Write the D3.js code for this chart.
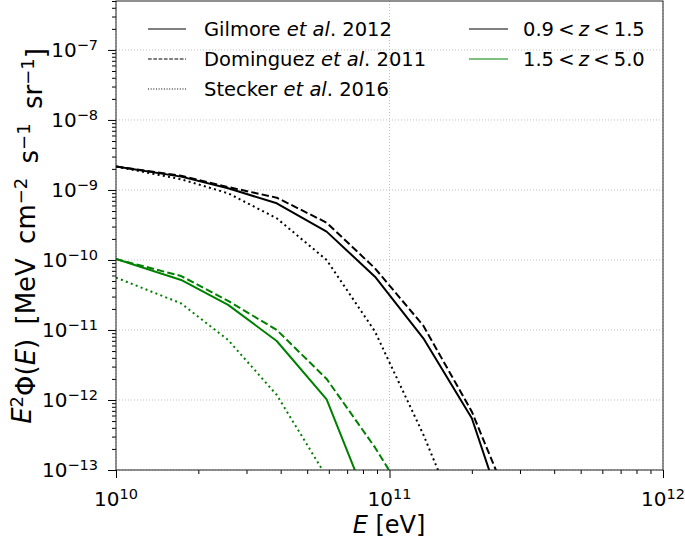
<!DOCTYPE html>
<html><head><meta charset="utf-8">
<script src="https://cdn.jsdelivr.net/npm/d3@7"></script>
<style>
body{margin:0;background:#fff;}
svg{display:block;font-family:"DejaVu Sans",sans-serif;}
</style></head>
<body><svg id="c" width="685" height="539"></svg>
<script>
// ---- data ----
const energies = [1e10, 1.73e10, 2.57e10, 3.87e10, 5.89e10, 8.85e10, 1.33e11, 2.0e11, 3.0e11];
const gilmoreZ1   = [2.16e-9, 1.55e-9, 1.06e-9, 6.45e-10, 2.54e-10, 5.77e-11, 7.6e-12, 5.48e-13, 4.8e-15];
const dominguezZ1 = [2.16e-9, 1.6e-9, 1.1e-9, 7.76e-10, 3.41e-10, 7.6e-11, 1.15e-11, 6.8e-13, 1.46e-14];
const steckerZ1   = [2.16e-9, 1.42e-9, 8.97e-10, 3.94e-10, 1.0e-10, 9.5e-12, 3.2e-13, 6.7e-15, null];
const gilmoreZ2   = [1.03e-10, 5.18e-11, 2.28e-11, 6.96e-12, 1.02e-12, 1.9e-14, null, null, null];
const dominguezZ2 = [1.03e-10, 5.9e-11, 2.6e-11, 1.0e-11, 2.0e-12, 2.1e-13, 1.6e-14, null, null];
const steckerZ2   = [5.6e-11, 2.4e-11, 7.2e-12, 1.18e-12, 8e-14, null, null, null, null];
const xTicks = [1e10, 1e11, 1e12];
const xTickExp = ["10", "11", "12"];
const yTicks = [1e-13, 1e-12, 1e-11, 1e-10, 1e-9, 1e-8, 1e-7];
const yTickExp = ["\u221213", "\u221212", "\u221211", "\u221210", "\u22129", "\u22128", "\u22127"];
const models = ["Gilmore", "Dominguez", "Stecker"];
const modelYears = ["2012", "2011", "2016"];
const zBins = [["0.9", "1.5"], ["1.5", "5.0"]];

const colors = ["#000000", "#008000"];
const dashes = [null, "7.4,3.2", "2,3.3"];
const seriesSets = [[gilmoreZ1, dominguezZ1, steckerZ1], [gilmoreZ2, dominguezZ2, steckerZ2]];

// ---- layout ----
const L = 116, R = 663, T = 1, B = 470;
const svg = d3.select("#c");
const x = d3.scaleLog().domain([1e10, 1e12]).range([L, R]);
const y = d3.scaleLog().domain([1e-13, 5e-7]).range([B, T]);

svg.append("defs").append("clipPath").attr("id", "clip")
  .append("rect").attr("x", L).attr("y", T).attr("width", R - L).attr("height", B - T);

// grid
const grid = svg.append("g");
xTicks.forEach(v => grid.append("line").attr("x1", x(v)).attr("x2", x(v)).attr("y1", T).attr("y2", B)
  .attr("stroke", "#b0b0b0").attr("stroke-width", 0.8).attr("stroke-dasharray", "1,2"));
yTicks.forEach(v => grid.append("line").attr("x1", L).attr("x2", R).attr("y1", y(v)).attr("y2", y(v))
  .attr("stroke", "#b0b0b0").attr("stroke-width", 0.8).attr("stroke-dasharray", "1,2"));

// curves
const line = d3.line().defined((d) => d[1] != null).x(d => x(d[0])).y(d => y(d[1]));
const curves = svg.append("g").attr("clip-path", "url(#clip)");
seriesSets.forEach((set, zi) => {
  set.forEach((vals, mi) => {
    const p = curves.append("path").datum(energies.map((e, i) => [e, vals[i]]))
      .attr("d", line).attr("fill", "none").attr("stroke", colors[zi])
      .attr("stroke-width", 2).attr("stroke-linejoin", "round");
    if (dashes[mi]) p.attr("stroke-dasharray", dashes[mi]);
  });
});

// axes
const xMinor = [];
[1e10, 1e11].forEach(d => { for (let k = 2; k <= 9; k++) xMinor.push(d * k); });
const yMinor = [];
[1e-13, 1e-12, 1e-11, 1e-10, 1e-9, 1e-8, 1e-7].forEach(d => { for (let k = 2; k <= 9; k++) if (d * k <= 5e-7) yMinor.push(d * k); });

svg.append("g").attr("transform", `translate(0,${B})`)
  .call(d3.axisBottom(x).tickValues(xTicks).tickSize(8).tickFormat(""));
svg.append("g").attr("transform", `translate(0,${B})`)
  .call(d3.axisBottom(x).tickValues(xMinor).tickSize(4).tickFormat(""));
svg.append("g").attr("transform", `translate(${L},0)`)
  .call(d3.axisLeft(y).tickValues(yTicks).tickSize(8).tickFormat(""));
svg.append("g").attr("transform", `translate(${L},0)`)
  .call(d3.axisLeft(y).tickValues(yMinor).tickSize(4).tickFormat(""));
svg.selectAll(".domain").remove();
svg.selectAll(".tick line").attr("stroke", "#000").attr("stroke-width", 1);

// tick labels
xTicks.forEach((v, i) => {
  const t = svg.append("text").attr("x", x(v)).attr("y", 506).attr("text-anchor", "middle")
    .attr("font-size", 20).attr("fill", "#000");
  t.append("tspan").text("10");
  t.append("tspan").attr("dy", "-0.45em").attr("font-size", 14.5).text(xTickExp[i]);
});
yTicks.forEach((v, i) => {
  const t = svg.append("text").attr("x", 98).attr("y", y(v) + 7).attr("text-anchor", "end")
    .attr("font-size", 20).attr("fill", "#000");
  t.append("tspan").text("10");
  t.append("tspan").attr("dy", "-0.45em").attr("font-size", 14.5).text(yTickExp[i]);
});

// frame
svg.append("rect").attr("x", L).attr("y", T).attr("width", R - L).attr("height", B - T)
  .attr("fill", "none").attr("stroke", "#222").attr("stroke-width", 1);

// axis labels
const xl = svg.append("text").attr("x", 389).attr("y", 533).attr("text-anchor", "middle")
  .attr("font-size", 24).attr("fill", "#000");
xl.append("tspan").attr("font-style", "italic").text("E");
xl.append("tspan").text(" [eV]");

const yl = svg.append("text").attr("transform", "translate(31,236) rotate(-90)")
  .attr("text-anchor", "middle").attr("font-size", 26).attr("fill", "#000")
  .attr("word-spacing", 6);
yl.append("tspan").attr("font-style", "italic").text("E");
yl.append("tspan").attr("dy", "-0.45em").attr("font-size", 18).text("2");
yl.append("tspan").attr("dy", "0.45em").text("\u03A6(");
yl.append("tspan").attr("font-style", "italic").text("E");
yl.append("tspan").text(") [MeV cm");
yl.append("tspan").attr("dy", "-0.45em").attr("font-size", 18).text("\u22122");
yl.append("tspan").attr("dy", "0.45em").text(" s");
yl.append("tspan").attr("dy", "-0.45em").attr("font-size", 18).text("\u22121");
yl.append("tspan").attr("dy", "0.45em").text(" sr");
yl.append("tspan").attr("dy", "-0.45em").attr("font-size", 18).text("\u22121");
yl.append("tspan").attr("dy", "0.45em").text("]");

// legend
const rows = [29, 59, 89];
models.forEach((m, i) => {
  const ln = svg.append("line").attr("x1", 148).attr("x2", 186).attr("y1", rows[i]).attr("y2", rows[i])
    .attr("stroke", "#000").attr("stroke-width", 1.2);
  if (dashes[i]) ln.attr("stroke-dasharray", i === 1 ? "3.7,1.6" : "1,1.65");
  const t = svg.append("text").attr("x", 204).attr("y", rows[i] + 7).attr("font-size", 19.5).attr("fill", "#000");
  t.append("tspan").text(m + " ");
  t.append("tspan").attr("font-style", "italic").text("et al");
  t.append("tspan").text(".  " + modelYears[i]);
});
zBins.forEach((zb, i) => {
  svg.append("line").attr("x1", 469).attr("x2", 508).attr("y1", rows[i]).attr("y2", rows[i])
    .attr("stroke", colors[i]).attr("stroke-width", 1.2);
  const t = svg.append("text").attr("x", 523).attr("y", rows[i] + 7).attr("font-size", 19.5).attr("fill", "#000")
    .attr("word-spacing", -2);
  t.append("tspan").text(zb[0] + " < ");
  t.append("tspan").attr("font-style", "italic").text("z");
  t.append("tspan").text(" < " + zb[1]);
});
</script></body></html>
